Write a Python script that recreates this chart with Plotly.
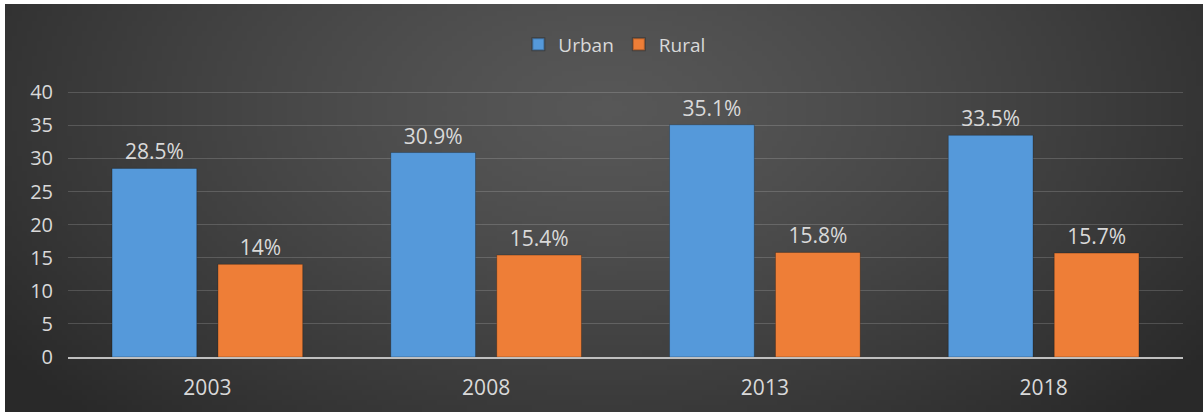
import base64, struct, zlib
import plotly.graph_objects as go

# ---- data ----
years = ["2003", "2008", "2013", "2018"]
urban = [28.5, 30.9, 35.1, 33.5]
rural = [14.0, 15.4, 15.8, 15.7]
urban_labels = ["28.5%", "30.9%", "35.1%", "33.5%"]
rural_labels = ["14%", "15.4%", "15.8%", "15.7%"]
y_ticks = [0, 5, 10, 15, 20, 25, 30, 35, 40]

W, H = 1203, 412
ML, MR, MT, MB = 68, 20, 91, 55
BG_X0, BG_Y0 = 5, 4

# ---- radial gradient background as embedded PNG ----
def make_png(w, h):
    rows = []
    cx, cy = w * 0.5, h * 0.25
    rx, ry = w * 0.62, h * 1.05
    inner, outer = 0x57, 0x29
    for j in range(h):
        row = bytearray([0])
        for i in range(w):
            d = (((i - cx) / rx) ** 2 + ((j - cy) / ry) ** 2) ** 0.5
            d = min(1.0, d)
            v = int(round(inner - (inner - outer) * d ** 1.3))
            row += bytes([v, v, v])
        rows.append(bytes(row))
    raw = b"".join(rows)
    def chunk(t, data):
        c = struct.pack(">I", len(data)) + t + data
        return c + struct.pack(">I", zlib.crc32(t + data) & 0xffffffff)
    png = b"\x89PNG\r\n\x1a\n"
    png += chunk(b"IHDR", struct.pack(">IIBBBBB", w, h, 8, 2, 0, 0, 0))
    png += chunk(b"IDAT", zlib.compress(raw, 9))
    png += chunk(b"IEND", b"")
    return "data:image/png;base64," + base64.b64encode(png).decode()

bg_src = make_png(240, 82)
pw = W - ML - MR
ph = H - MT - MB
img_x0 = (BG_X0 - ML) / pw
img_x1 = (W - ML) / pw
img_y1 = (H - MB - BG_Y0) / ph
img_y0 = (-MB) / ph

font = "Open Sans"
txt = "#d9d9d9"

fig = go.Figure()
fig.add_trace(go.Bar(
    name="Urban", x=years, y=urban, text=urban_labels,
    textposition="outside", cliponaxis=False,
    marker=dict(color="#5599da", line=dict(color="rgba(0,0,0,0.25)", width=1)),
    textfont=dict(family=font, size=21, color=txt),
))
fig.add_trace(go.Bar(
    name="Rural", x=years, y=rural, text=rural_labels,
    textposition="outside", cliponaxis=False,
    marker=dict(color="#ee7e37", line=dict(color="rgba(0,0,0,0.25)", width=1)),
    textfont=dict(family=font, size=21, color=txt),
))

fig.update_layout(
    width=W, height=H,
    margin=dict(l=ML, r=MR, t=MT, b=MB, pad=0),
    paper_bgcolor="white",
    plot_bgcolor="rgba(0,0,0,0)",
    barmode="group", bargap=0.24, bargroupgap=0.2,
    font=dict(family=font, color=txt),
    showlegend=True,
    legend=dict(orientation="h", x=0.49, y=1.175, xanchor="center", yanchor="middle",
                font=dict(family=font, size=19, color=txt),
                bgcolor="rgba(0,0,0,0)", itemsizing="constant", traceorder="normal"),
    xaxis=dict(showgrid=False, showline=True, linecolor="#bfbfbf", linewidth=2,
               ticks="", tickfont=dict(family=font, size=21, color=txt),
               ticklabelstandoff=11, fixedrange=True),
    yaxis=dict(range=[0, 40.2], tickvals=y_ticks, showgrid=True,
               gridcolor="rgba(255,255,255,0.16)", gridwidth=1,
               zeroline=False, showline=False, ticks="",
               tickfont=dict(family=font, size=20, color=txt),
               ticklabelstandoff=14, fixedrange=True),
    images=[dict(source=bg_src, xref="paper", yref="paper",
                 x=img_x0, y=img_y1, sizex=img_x1 - img_x0, sizey=img_y1 - img_y0,
                 xanchor="left", yanchor="top", sizing="stretch", layer="below")],
)

fig.write_html("out.html")
